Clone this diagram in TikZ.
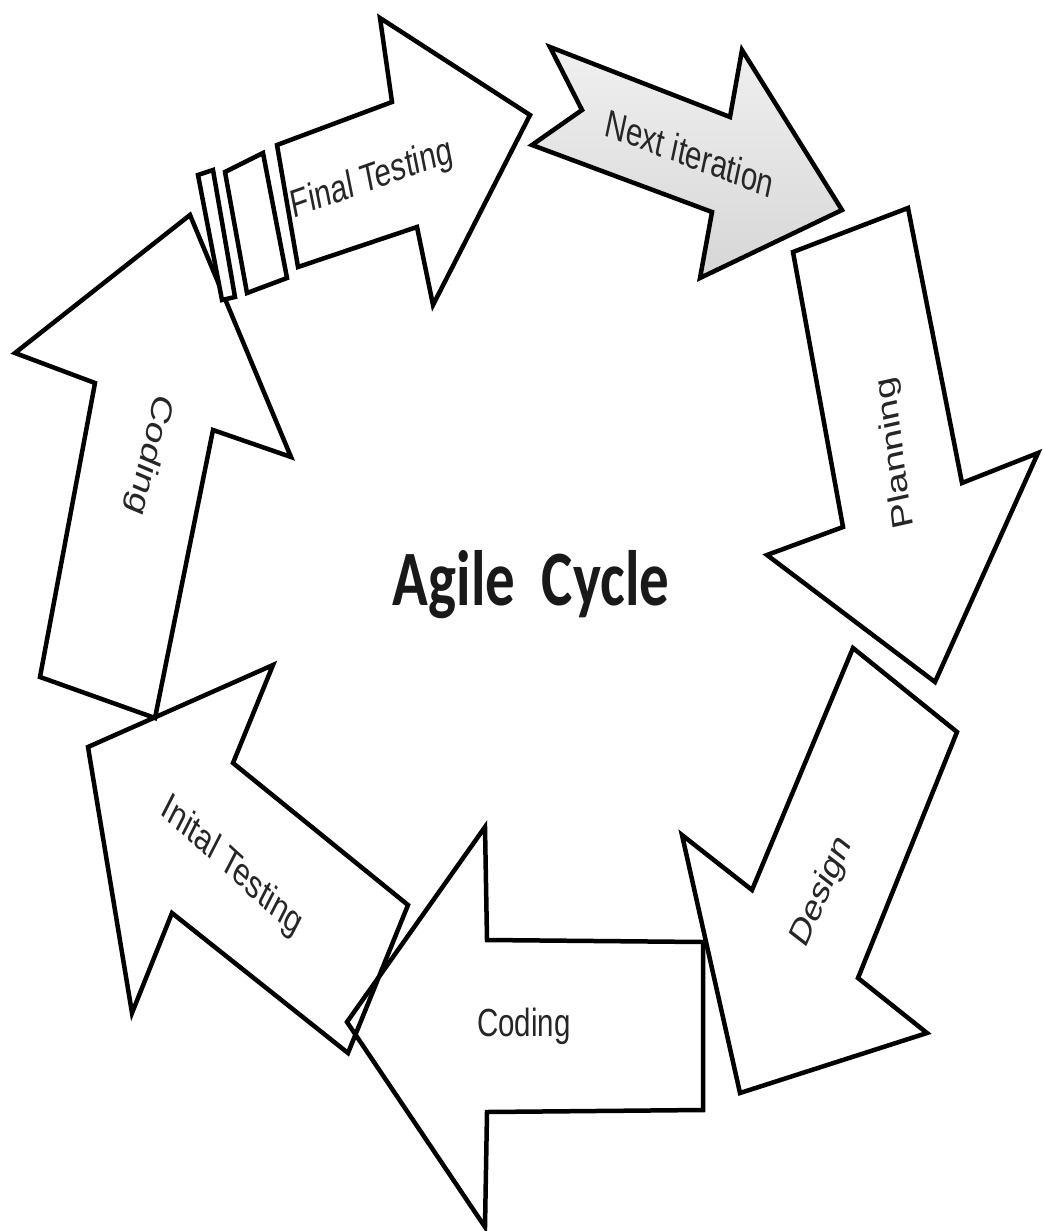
\documentclass[tikz,border=0pt]{standalone}
\usepackage{fontspec}
\setmainfont{Liberation Sans}
\newfontfamily\titlefont{Carlito}
\begin{document}
\begin{tikzpicture}[x=1pt,y=-1pt]
\tikzset{
  blockarrow/.style={draw=black, line width=4.5pt, line join=miter},
  grayarrow/.style={blockarrow, top color=gray!12, bottom color=gray!32},
  stripe/.style={draw=black, line width=4.5pt, fill=white},
  lbl/.style={font=\fontsize{29.5}{30}\selectfont, text=black!85, inner sep=0pt}
}
\useasboundingbox (0,0) rectangle (1042,1231);

% Final Testing
\draw[blockarrow] (530,115) -- (433,305) -- (417,227) -- (298,267) -- (277,145) -- (392,102) -- (380,18) -- cycle;
% Next iteration
\draw[grayarrow] (550,47) -- (730,117) -- (742,50) -- (842,210) -- (700,278) -- (712,212) -- (532,145) -- (582,110) -- cycle;
% Planning
\draw[blockarrow] (793,252) -- (908,208) -- (962,483) -- (1038,453) -- (935,682) -- (767,555) -- (843,527) -- cycle;
% Design
\draw[blockarrow] (853,648) -- (957,732) -- (858,978) -- (927,1033) -- (740,1093) -- (682,835) -- (752,890) -- cycle;
% Coding (bottom)
\draw[blockarrow] (347,1022) -- (485,827) -- (487,940) -- (703,942) -- (703,1110) -- (487,1112) -- (485,1227) -- cycle;
% Inital Testing
\draw[blockarrow] (88,747) -- (273,665) -- (233,763) -- (408,905) -- (348,1053) -- (172,913) -- (132,1013) -- cycle;
% Coding (left)
\draw[blockarrow] (190,215) -- (291,457) -- (213,430) -- (155,718) -- (40,677) -- (95,383) -- (15,353) -- cycle;
% tail stripes of Final Testing
\draw[stripe] (225,172) -- (263,153) -- (287,278) -- (247,293) -- cycle;
\draw[stripe] (198,175) -- (213,170) -- (235,297) -- (222,300) -- cycle;

% labels
\node[lbl, shift={(372,180)}, yscale=1.33, rotate=14.9] (tft) at (0,0) {Final Testing};
\node[lbl, shift={(690,153)}, yscale=1.33, rotate=-15.8] (tni) at (0,0) {Next iteration};
\node[lbl, shift={(896,453)}, yscale=1.33, rotate=99.5] (tpl) at (0,0) {Planning};
\node[lbl, shift={(822,892)}, yscale=1.33, rotate=59.7] (tde) at (0,0) {Design};
\node[lbl, shift={(524,1026)}, yscale=1.33] (tcb) at (0,0) {Coding};
\node[lbl, shift={(232,867)}, yscale=1.33, rotate=-34.3] (tit) at (0,0) {Inital Testing};
\node[lbl, shift={(149,455)}, yscale=1.33, rotate=-107.5] (tcl) at (0,0) {Coding};
\node[shift={(531,605)}, yscale=1.33, anchor=base, inner sep=0pt, font=\titlefont\bfseries\fontsize{59}{60}\selectfont, text=black!90] (title) at (0,0) {Agile\ \ Cycle};
\end{tikzpicture}
\end{document}
